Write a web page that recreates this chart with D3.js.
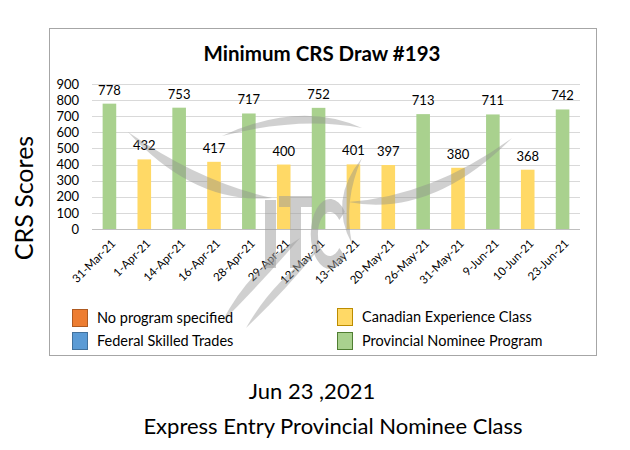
<!DOCTYPE html>
<html>
<head>
<meta charset="utf-8">
<script src="https://cdn.jsdelivr.net/npm/d3@7"></script>
<style>
  body { margin: 0; background: #fff; }
  text { font-family: Lato, "Open Sans", sans-serif; }
</style>
</head>
<body>
<svg id="chart" width="630" height="450"></svg>
<script>
var dates = ["31-Mar-21", "1-Apr-21", "14-Apr-21", "16-Apr-21", "28-Apr-21", "29-Apr-21",
    "12-May-21", "13-May-21", "20-May-21", "26-May-21", "31-May-21", "9-Jun-21", "10-Jun-21", "23-Jun-21"];
var scores = [778, 432, 753, 417, 717, 400, 752, 401, 397, 713, 380, 711, 368, 742];
var programs = ["pnp", "cec", "pnp", "cec", "pnp", "cec", "pnp", "cec", "cec", "pnp", "cec", "pnp", "cec", "pnp"];
var yTicks = [0, 100, 200, 300, 400, 500, 600, 700, 800, 900];
var legendItems = [
    {key: "none", label: "No program specified"},
    {key: "fst", label: "Federal Skilled Trades"},
    {key: "cec", label: "Canadian Experience Class"},
    {key: "pnp", label: "Provincial Nominee Program"}
];

var colors = {
    "none": "#ED7D31",
    "fst": "#5B9BD5",
    "cec": "#FFD966",
    "pnp": "#A9D18E"
};
var strokes = {
    "none": "#ae5a21",
    "fst": "#41719c",
    "cec": "#bc8c00",
    "pnp": "#507e32"
};

(function () {
    'use strict';
    var svg = d3.select("#chart");

    // chart frame
    svg.append("rect")
        .attr("x", 49.5).attr("y", 28.5)
        .attr("width", 547).attr("height", 327)
        .attr("fill", "#fff").attr("stroke", "#a6a6a6");

    var x = d3.scaleBand().domain(dates).range([92, 580]).paddingInner(0.61).paddingOuter(0.305);
    var y = d3.scaleLinear().domain([0, 900]).range([229, 84]);

    // grid
    svg.append("g").selectAll("line")
        .data(yTicks.filter(function (d) { return d > 0; }))
        .enter().append("line")
        .attr("x1", 92).attr("x2", 580)
        .attr("y1", function (d) { return Math.round(y(d)) + 0.5; })
        .attr("y2", function (d) { return Math.round(y(d)) + 0.5; })
        .attr("stroke", "#d9d9d9");

    // y axis labels
    var yAxis = svg.append("g")
        .attr("transform", "translate(92,0)")
        .call(d3.axisLeft(y).tickValues(yTicks).tickSize(0).tickPadding(13));
    yAxis.select(".domain").remove();
    yAxis.selectAll("text").attr("font-size", 13).attr("fill", "#000")
        .attr("font-family", "Lato, 'Open Sans', sans-serif");

    // bars
    svg.append("g").selectAll("rect")
        .data(scores)
        .enter().append("rect")
        .attr("x", function (d, i) { return x(dates[i]); })
        .attr("y", function (d) { return y(d); })
        .attr("width", x.bandwidth())
        .attr("height", function (d) { return y(0) - y(d); })
        .attr("fill", function (d, i) { return colors[programs[i]]; });

    // data labels
    svg.append("g").selectAll("text")
        .data(scores)
        .enter().append("text")
        .attr("x", function (d, i) { return x(dates[i]) + x.bandwidth() / 2; })
        .attr("y", function (d) { return y(d) - 9; })
        .attr("text-anchor", "middle")
        .attr("font-size", 13)
        .text(function (d) { return d; });

    // x axis
    var xAxis = svg.append("g")
        .attr("transform", "translate(0," + (Math.round(y(0)) + 0.5) + ")")
        .call(d3.axisBottom(x).tickSize(0).tickPadding(0));
    xAxis.select(".domain").attr("stroke", "#bfbfbf").attr("d", "M92,0H580");
    xAxis.selectAll("text")
        .attr("font-size", 11.5).attr("fill", "#000")
        .attr("font-family", "Lato, 'Open Sans', sans-serif")
        .attr("text-anchor", "end")
        .attr("dy", "0.35em")
        .attr("transform", "translate(4,12) rotate(-45)");

    // watermark (faint logo drawn over the plot)
    var wm = svg.append("g").attr("fill", "#8c8c8c").attr("opacity", 0.4);
    wm.append("path").attr("d", "M128,132 Q195,205 272,198 Q200,182 128,132 Z");
    wm.append("path").attr("d", "M222,136 Q300,100 362,128 Q300,116 222,136 Z");
    wm.append("path").attr("d", "M362,158 Q328,200 352,244 Q343,200 362,158 Z");
    wm.append("path").attr("d", "M348,202 Q432,218 512,138 Q432,196 348,202 Z");
    wm.append("path").attr("d", "M222,322 Q248,270 300,238 Q262,282 222,322 Z");
    wm.append("path").attr("d", "M246,328 Q272,282 318,250 Q284,292 246,328 Z");
    var letters = svg.append("g").attr("fill", "#9a9a9a").attr("opacity", 0.5);
    letters.append("rect").attr("x", 265).attr("y", 200).attr("width", 11).attr("height", 68);
    letters.append("path").attr("d", "M279,196H312V207H301V268H290V207H279Z");
    letters.append("path")
        .attr("transform", "translate(330,234) scale(0.55,1)")
        .attr("d", d3.arc().innerRadius(22).outerRadius(35)
            .startAngle(Math.PI * 0.72).endAngle(Math.PI * 2.28)());

    // title
    svg.append("text")
        .attr("x", 322).attr("y", 61)
        .attr("text-anchor", "middle")
        .attr("font-size", 20.5).attr("font-weight", "bold")
        .text("Minimum CRS Draw #193");

    // y title
    svg.append("text")
        .attr("transform", "translate(33,198) rotate(-90)")
        .attr("text-anchor", "middle")
        .attr("font-size", 25)
        .text("CRS Scores");

    // legend
    var legendPos = [[72, 309], [72, 332], [337, 308], [337, 332]];
    var lg = svg.append("g").selectAll("g")
        .data(legendItems)
        .enter().append("g")
        .attr("transform", function (d, i) { return "translate(" + legendPos[i][0] + "," + legendPos[i][1] + ")"; });
    lg.append("rect")
        .attr("x", 0.5).attr("y", 0.5)
        .attr("width", 15).attr("height", 17)
        .attr("fill", function (d) { return colors[d.key]; })
        .attr("stroke", function (d) { return strokes[d.key]; });
    lg.append("text")
        .attr("x", 25).attr("y", 13.5)
        .attr("font-size", 14.5)
        .text(function (d) { return d.label; });

    // footer
    svg.append("text")
        .attr("x", 312).attr("y", 399)
        .attr("text-anchor", "middle")
        .attr("font-size", 22)
        .text("Jun 23 ,2021");
    svg.append("text")
        .attr("x", 333).attr("y", 434)
        .attr("text-anchor", "middle")
        .attr("font-size", 22)
        .text("Express Entry Provincial Nominee Class");
})();
</script>
</body>
</html>
